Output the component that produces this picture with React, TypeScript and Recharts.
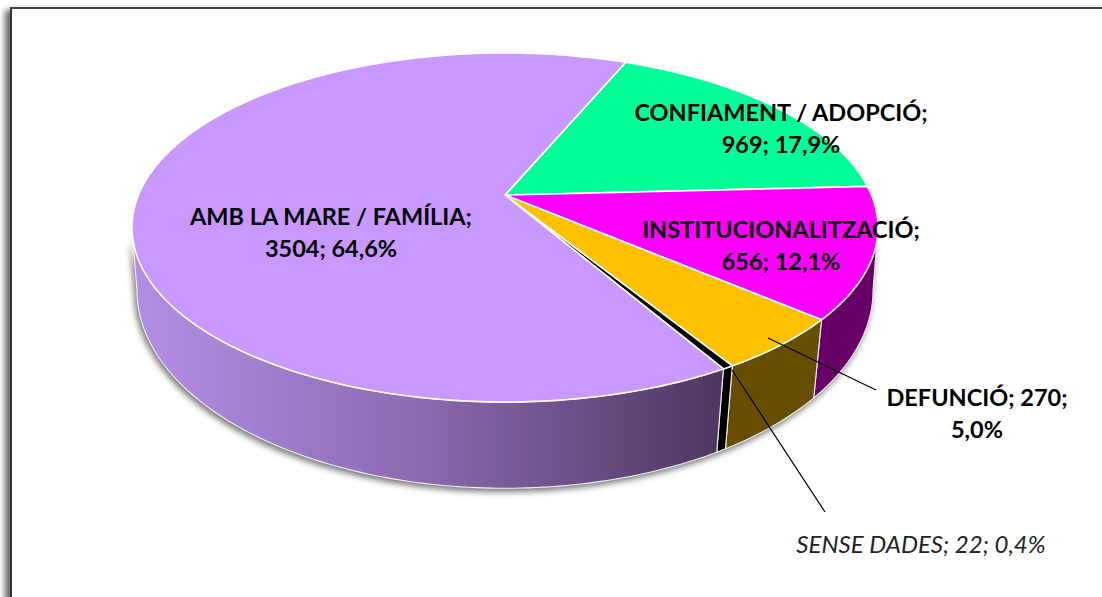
import type React from "react"
import { PieChart, Pie } from "recharts"

const categories = ["CONFIAMENT / ADOPCIÓ", "INSTITUCIONALITZACIÓ", "DEFUNCIÓ", "SENSE DADES", "AMB LA MARE / FAMÍLIA"]
const counts = [969, 656, 270, 22, 3504]
const topColors = ["#00ff99", "#ff00ff", "#ffc000", "#000000", "#c999ff"]
const wallColors = ["#009a5c", "#660066", "#664d00", "#000000", "url(#mareWall)"]

const pieData = categories.map((name, i) => ({
  name,
  value: counts[i],
  top: topColors[i],
  wall: wallColors[i],
}))

const WIDTH = 1102
const HEIGHT = 597
const CX = 505
const CY = 195
const RADIUS = 366.5
const FIRST_ANGLE = 67.3

// perspective of the tilted disc, top face and floor
const topDisc = { cy: CY, ratioX: 1, ratioY: 168.5 / 366.5, k: 0.186 }
const floorDisc = { cy: 257.6, ratioX: 363 / 366.5, ratioY: 192.6 / 366.5, k: 0.165 }

type Disc = typeof topDisc

const rad = (deg: number) => (deg * Math.PI) / 180

const project = (deg: number, cx: number, r: number, disc: Disc) => {
  const u = Math.cos(rad(deg))
  const v = Math.sin(rad(deg))
  const d = 1 + disc.k * v
  return [cx + (r * disc.ratioX * u) / d, disc.cy - (r * disc.ratioY * v) / d]
}

const arcPoints = (from: number, to: number, cx: number, r: number, disc: Disc) => {
  const steps = Math.max(2, Math.ceil(Math.abs(to - from)))
  const pts: number[][] = []
  for (let i = 0; i <= steps; i++) {
    pts.push(project(from + ((to - from) * i) / steps, cx, r, disc))
  }
  return pts
}

const toPath = (pts: number[][]) =>
  pts.map((p, i) => `${i === 0 ? "M" : "L"}${p[0].toFixed(2)},${p[1].toFixed(2)}`).join(" ") + " Z"

const TopSlice = (props: any) => {
  const { cx, cy, outerRadius, startAngle, endAngle, top } = props
  const pts = [[cx, cy], ...arcPoints(startAngle, endAngle, cx, outerRadius, topDisc)]
  return <path d={toPath(pts)} fill={top} stroke="#ffffff" strokeWidth={1.6} strokeLinejoin="round" />
}

// only the front of the disc shows a side wall
const WallSlice = (props: any) => {
  const { cx, outerRadius, startAngle, endAngle, wall } = props
  const floorHi = Math.min(startAngle, -9.5)
  const floorLo = Math.max(endAngle, -170.5)
  if (floorHi <= floorLo) return null
  const rimHi = Math.min(startAngle, -15)
  const rimLo = Math.max(endAngle, -165)
  const rim = arcPoints(rimHi, rimLo, cx, outerRadius, topDisc)
  const floor = arcPoints(floorLo, floorHi, cx, outerRadius, floorDisc)
  return <path d={toPath([...rim, ...floor])} fill={wall} stroke="#f2f2f2" strokeWidth={1.1} strokeLinejoin="round" />
}

const labelLayout: Record<string, { x: number; y: number; split: boolean; leader?: number[] }> = {
  "CONFIAMENT / ADOPCIÓ": { x: 781, y: 121, split: true },
  "INSTITUCIONALITZACIÓ": { x: 781, y: 238, split: true },
  "AMB LA MARE / FAMÍLIA": { x: 331, y: 225, split: true },
  "DEFUNCIÓ": { x: 977, y: 406, split: false, leader: [768, 338, 876, 390] },
  "SENSE DADES": { x: 921, y: 553, split: false, leader: [732, 370, 825, 512] },
}

const formatPercent = (percent: number) => (percent * 100).toFixed(1).replace(".", ",") + "%"

const SliceLabel = (props: any) => {
  const { name, value, percent } = props
  const spot = labelLayout[name]
  const pct = formatPercent(percent)
  const leader = spot.leader
  const italic = name === "SENSE DADES"
  let lines = [`${name}; ${value}; ${pct}`]
  if (spot.split) lines = [`${name};`, `${value}; ${pct}`]
  if (name === "DEFUNCIÓ") lines = [`${name}; ${value};`, pct]
  return (
    <g>
      {leader && <line x1={leader[0]} y1={leader[1]} x2={leader[2]} y2={leader[3]} stroke="#000000" strokeWidth={1.2} />}
      <text
        textAnchor="middle"
        fontFamily="Lato"
        fontSize={italic ? 24 : 23.5}
        fontWeight={italic ? 400 : 700}
        fontStyle={italic ? "italic" : "normal"}
        fill={italic ? "#222222" : "#000000"}
      >
        {lines.map((line, i) => (
          <tspan key={line} x={spot.x} y={spot.y + i * 32}>
            {line}
          </tspan>
        ))}
      </text>
    </g>
  )
}

const App: React.FC = () => {
  return (
    <div style={{ position: "absolute", left: 0, top: 0, width: WIDTH, height: HEIGHT, overflow: "hidden", background: "#ffffff" }}>
      <style>{`.wall-pie { filter: drop-shadow(-2px 3px 3px rgba(0,0,0,0.55)); }`}</style>
      <div
        style={{
          position: "absolute",
          left: 10,
          top: 7,
          width: WIDTH,
          height: HEIGHT,
          borderLeft: "2px solid #333333",
          borderTop: "2px solid #444444",
          boxShadow: "-5px 3px 6px rgba(0,0,0,0.6)",
          background: "#ffffff",
        }}
      />
      <div style={{ position: "absolute", left: 0, top: 0 }}>
        <PieChart width={WIDTH} height={HEIGHT} margin={{ top: 0, right: 0, bottom: 0, left: 0 }}>
          <defs>
            <linearGradient id="mareWall" x1="0" y1="0" x2="1" y2="0">
              <stop offset="0%" stopColor="#b48ee6" />
              <stop offset="50%" stopColor="#8a69ae" />
              <stop offset="100%" stopColor="#4e3660" />
            </linearGradient>
          </defs>
          <Pie
            className="wall-pie"
            data={pieData}
            dataKey="value"
            nameKey="name"
            cx={CX}
            cy={CY}
            outerRadius={RADIUS}
            startAngle={FIRST_ANGLE}
            endAngle={FIRST_ANGLE - 360}
            shape={WallSlice}
            label={false}
            labelLine={false}
            isAnimationActive={false}
          />
          <Pie
            data={pieData}
            dataKey="value"
            nameKey="name"
            cx={CX}
            cy={CY}
            outerRadius={RADIUS}
            startAngle={FIRST_ANGLE}
            endAngle={FIRST_ANGLE - 360}
            shape={TopSlice}
            label={SliceLabel}
            labelLine={false}
            isAnimationActive={false}
          />
        </PieChart>
      </div>
    </div>
  )
}

export default App
